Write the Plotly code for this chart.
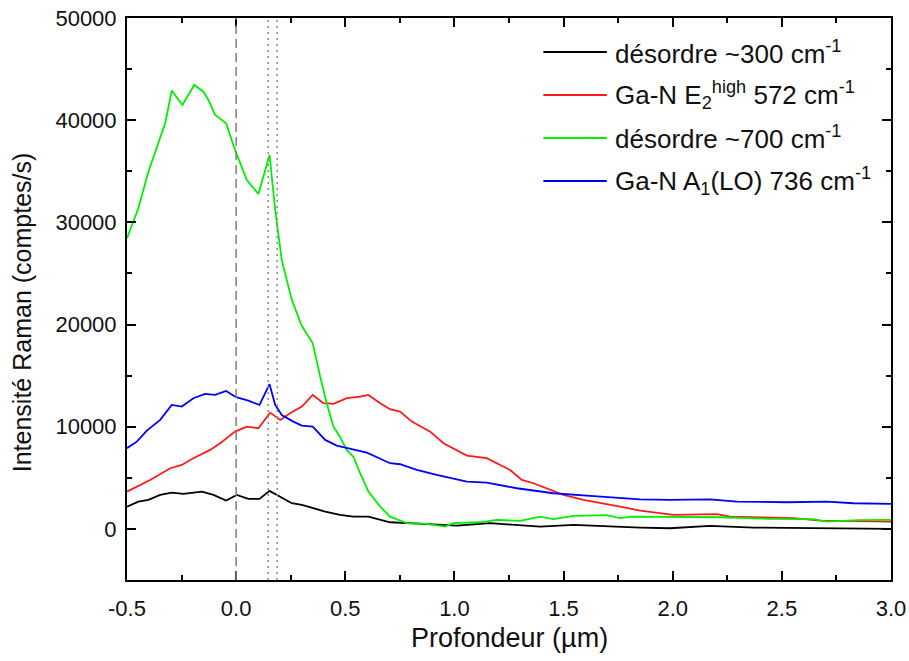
import plotly.graph_objects as go

# ---------------- data ----------------
green_x = [-0.5, -0.448, -0.402, -0.348, -0.325, -0.295, -0.246, -0.192, -0.150, -0.127, -0.096, -0.046,
           -0.005, 0.049, 0.102, 0.153, 0.179, 0.209, 0.232, 0.255, 0.30, 0.351, 0.385, 0.415, 0.446,
           0.476, 0.507, 0.537, 0.568, 0.606, 0.660, 0.705, 0.782, 0.874, 0.957, 0.995, 1.118, 1.194,
           1.30, 1.393, 1.453, 1.545, 1.698, 1.759, 1.81, 2.0, 2.217, 2.446, 2.643, 2.706, 2.85, 3.0]
green_y = [28450, 31380, 34960, 38230, 39700, 42890, 41490, 43450, 42790, 41980, 40510, 39700,
           37090, 34150, 32780, 36600, 31210, 26320, 24360, 22410, 19900, 18170, 14900, 12300, 10010,
           9000, 7700, 7070, 5450, 3650, 2180, 1200, 560, 490, 225, 560, 650, 880,
           780, 1200, 950, 1270, 1340, 1050, 1200, 1150, 1140, 980, 950, 715, 850, 880]

red_x = [-0.5, -0.394, -0.302, -0.249, -0.196, -0.119, -0.073, -0.005, 0.049, 0.102, 0.156, 0.202,
         0.247, 0.301, 0.351, 0.40, 0.446, 0.507, 0.568, 0.606, 0.66, 0.705, 0.751, 0.805, 0.889, 0.950,
         1.057, 1.148, 1.255, 1.309, 1.362, 1.423, 1.499, 1.591, 1.683, 1.759, 1.851, 2.003, 2.202,
         2.263, 2.553, 2.676, 3.0]
red_y = [3650, 4790, 5940, 6260, 6920, 7730, 8390, 9520, 10010, 9850, 11380, 10670,
         11320, 11970, 13110, 12300, 12230, 12790, 12950, 13110, 12300, 11710, 11480, 10500, 9520, 8390,
         7170, 6920, 5770, 4790, 4470, 3980, 3330, 2840, 2510, 2180, 1790, 1370, 1440,
         1200, 1050, 810, 715]

blue_x = [-0.5, -0.455, -0.409, -0.348, -0.295, -0.249, -0.196, -0.142, -0.096, -0.046, 0.0, 0.056,
          0.107, 0.153, 0.179, 0.209, 0.262, 0.301, 0.351, 0.408, 0.461, 0.568, 0.599, 0.705, 0.751,
          0.828, 0.919, 1.057, 1.148, 1.286, 1.453, 1.622, 1.851, 1.988, 2.171, 2.294, 2.523, 2.706,
          2.828, 3.0]
blue_y = [7900, 8540, 9620, 10670, 12130, 11970, 12790, 13210, 13110, 13500, 12890, 12550,
          12130, 14160, 12130, 11150, 10500, 10110, 10010, 8710, 8150, 7660, 7470, 6430, 6330,
          5770, 5280, 4630, 4530, 3980, 3490, 3230, 2900, 2840, 2900, 2670, 2610, 2670,
          2510, 2450]

black_x = [-0.5, -0.448, -0.402, -0.348, -0.295, -0.242, -0.157, -0.104, -0.046, 0.003, 0.056, 0.107,
           0.153, 0.202, 0.255, 0.301, 0.351, 0.408, 0.476, 0.537, 0.606, 0.705, 0.858, 1.011, 1.164,
           1.393, 1.545, 1.698, 1.851, 1.988, 2.171, 2.37, 2.676, 3.0]
black_y = [2180, 2670, 2840, 3330, 3550, 3420, 3650, 3330, 2770, 3330, 2940, 2940,
           3720, 3160, 2510, 2350, 2020, 1700, 1370, 1200, 1200, 650, 490, 330, 560,
           225, 390, 225, 130, 65, 290, 130, 65, 0]

series_names = ["désordre ~300 cm<sup>-1</sup>",
                "Ga-N E<sub>2</sub><sup>high</sup> 572 cm<sup>-1</sup>",
                "désordre ~700 cm<sup>-1</sup>",
                "Ga-N A<sub>1</sub>(LO) 736 cm<sup>-1</sup>"]
series_colors = ["#000000", "#ff1a1a", "#00ee00", "#0000ff"]

dashed_line_x = [0.0]
dotted_lines_x = [0.147, 0.188]

x_ticks = [-0.5, 0.0, 0.5, 1.0, 1.5, 2.0, 2.5, 3.0]
y_ticks = [0, 10000, 20000, 30000, 40000, 50000]

x_title = "Profondeur (µm)"
y_title = "Intensité Raman (comptes/s)"

FONT = "Liberation Sans, Arial, sans-serif"

# ---------------- figure ----------------
fig = go.Figure()
series = [(black_x, black_y), (red_x, red_y), (green_x, green_y), (blue_x, blue_y)]
for (xs, ys), name, col in zip(series, series_names, series_colors):
    fig.add_trace(go.Scatter(x=xs, y=ys, mode="lines", name=name,
                             line=dict(color=col, width=1.8), showlegend=False))

for xv in dashed_line_x:
    fig.add_shape(type="line", xref="x", yref="paper", x0=xv, x1=xv, y0=0, y1=1,
                  line=dict(color="#7f7f7f", width=1.5, dash="9px,5px"))
for xv in dotted_lines_x:
    fig.add_shape(type="line", xref="x", yref="paper", x0=xv, x1=xv, y0=0, y1=1,
                  line=dict(color="#8a8a8a", width=1.5, dash="2px,4px"))

# custom legend (sample line + label)
leg_y = [0.9395, 0.863, 0.7865, 0.71]
for name, col, yy in zip(series_names, series_colors, leg_y):
    fig.add_shape(type="line", xref="paper", yref="paper", x0=0.545, x1=0.628, y0=yy, y1=yy,
                  line=dict(color=col, width=1.8))
    fig.add_annotation(xref="paper", yref="paper", x=0.636, y=yy, text=name, showarrow=False,
                       xanchor="left", yanchor="middle",
                       font=dict(family=FONT, size=26, color="#111"))

# axis titles
fig.add_annotation(xref="paper", yref="paper", x=0.5, y=-0.103, text=x_title, showarrow=False,
                   xanchor="center", yanchor="middle", font=dict(family=FONT, size=27, color="#111"))
fig.add_annotation(xref="paper", yref="paper", x=-0.137, y=0.477, text=y_title, showarrow=False,
                   textangle=-90, xanchor="center", yanchor="middle",
                   font=dict(family=FONT, size=25, color="#111"))

axis_common = dict(showline=True, linecolor="black", linewidth=2, mirror="ticks",
                   ticks="inside", ticklen=9, tickwidth=2, tickcolor="black",
                   showgrid=False, zeroline=False, automargin=False,
                   tickfont=dict(family=FONT, size=22, color="#111"),
                   minor=dict(ticks="inside", ticklen=5, tickwidth=2, tickcolor="black", showgrid=False))

fig.update_xaxes(range=[-0.5, 3.0], tickvals=x_ticks, ticktext=[f"{v:.1f}" for v in x_ticks],
                 minor_dtick=0.25, ticklabelstandoff=8, **axis_common)
fig.update_yaxes(range=[-5000, 50000], tickvals=y_ticks, ticktext=[str(v) for v in y_ticks],
                 minor_dtick=5000, ticklabelstandoff=4, **axis_common)

fig.update_layout(width=909, height=661, plot_bgcolor="white", paper_bgcolor="white",
                  margin=dict(l=127, r=18, t=18, b=81), showlegend=False)

# remove the default 8px page margin so the figure sits at the window's top-left corner
fig.write_html("out.html", config={"displayModeBar": False, "staticPlot": True},
               post_script="document.body.style.margin='0';")
